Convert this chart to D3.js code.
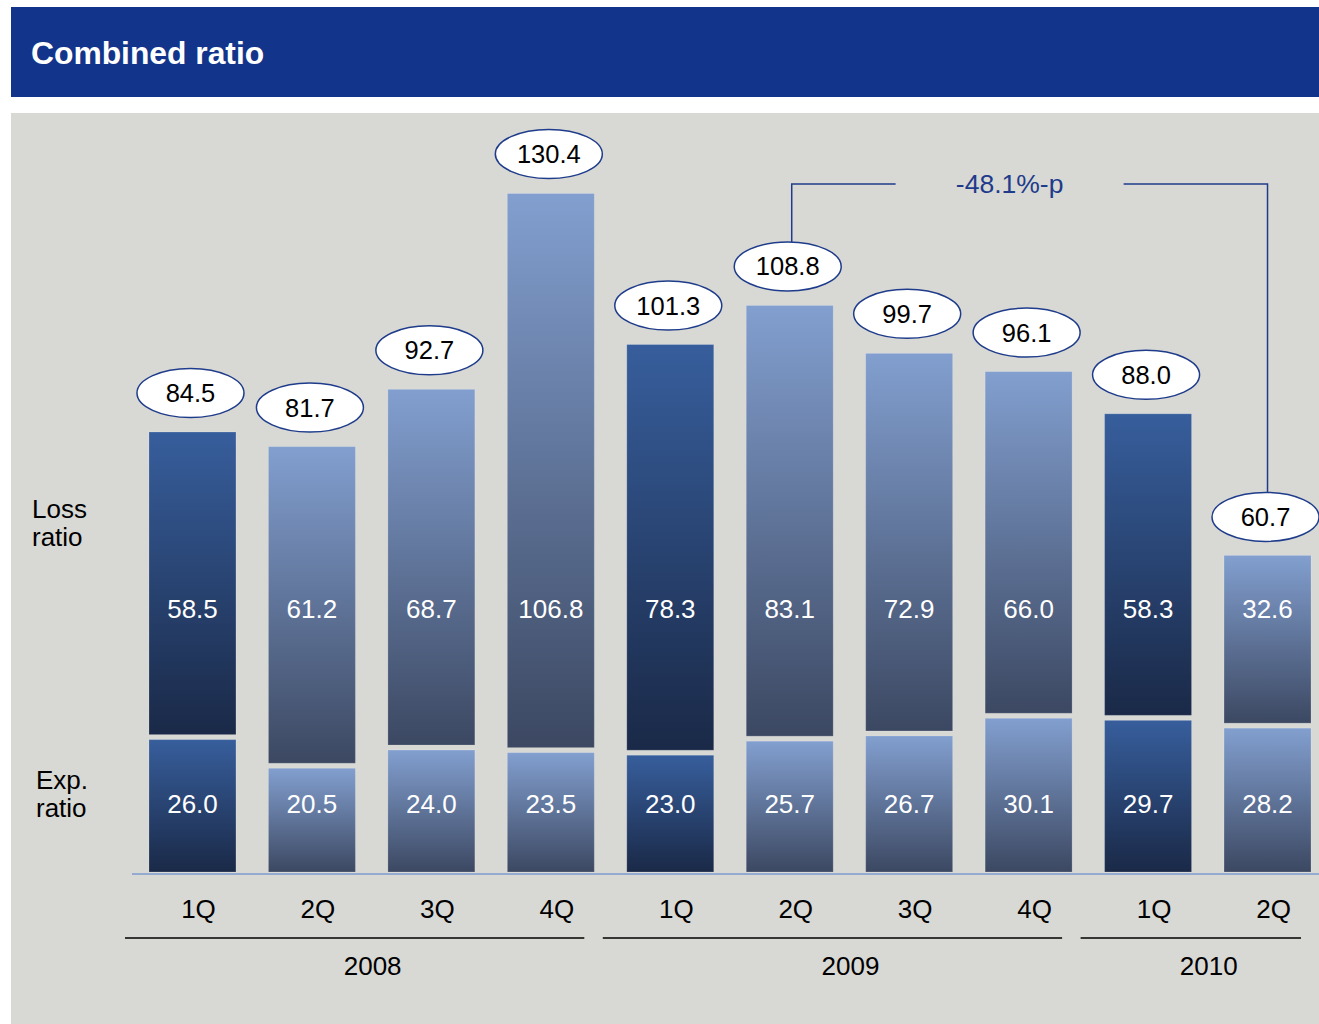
<!DOCTYPE html>
<html>
<head>
<meta charset="utf-8">
<script src="https://cdn.jsdelivr.net/npm/d3@7/dist/d3.min.js"></script>
<style>
  html, body { margin: 0; padding: 0; background: #ffffff; }
  svg { display: block; }
  text { font-family: "Liberation Sans", Arial, Helvetica, sans-serif; }
</style>
</head>
<body>
<svg id="chart" width="1319" height="1024"></svg>
<script>
// Quarterly combined ratio = loss ratio + expense ratio (%)
const quarters   = ["1Q", "2Q", "3Q", "4Q", "1Q", "2Q", "3Q", "4Q", "1Q", "2Q"];
const years      = ["2008", "2008", "2008", "2008", "2009", "2009", "2009", "2009", "2010", "2010"];
const lossRatio  = [58.5, 61.2, 68.7, 106.8, 78.3, 83.1, 72.9, 66.0, 58.3, 32.6];
const expRatio   = [26.0, 20.5, 24.0, 23.5, 23.0, 25.7, 26.7, 30.1, 29.7, 28.2];
const combined   = [84.5, 81.7, 92.7, 130.4, 101.3, 108.8, 99.7, 96.1, 88.0, 60.7];
const compareFrom = 5;   // 2Q 2009
const compareTo   = 9;   // 2Q 2010

const svg = d3.select("#chart");
const W = 1319, H = 1024;

// Gradients
const defs = svg.append("defs");
function grad(id, c0, c1) {
  const g = defs.append("linearGradient").attr("id", id)
    .attr("x1", 0).attr("y1", 0).attr("x2", 0).attr("y2", 1);
  g.append("stop").attr("offset", "0%").attr("stop-color", c0);
  g.append("stop").attr("offset", "100%").attr("stop-color", c1);
}
grad("gDark", "#375e9c", "#1a2947");
grad("gLight", "#829fcf", "#3c4862");

// Header band
svg.append("rect").attr("x", 11).attr("y", 7).attr("width", W - 11).attr("height", 90)
  .attr("fill", "#12348a");
svg.append("text").attr("x", 31).attr("y", 64)
  .attr("fill", "#ffffff").attr("font-weight", "bold").attr("font-size", 31.8)
  .text("Combined ratio");

// Panel
svg.append("rect").attr("x", 11).attr("y", 113).attr("width", W - 11).attr("height", H - 113)
  .attr("fill", "#d8d8d4");

// Scales
const idx = d3.range(quarters.length);
const x = d3.scaleBand().domain(idx).range([149, 1311]).paddingInner(0.272).paddingOuter(0);
const bw = x.bandwidth();
const y = d3.scaleLinear().domain([0, 140]).range([872, 872 - 140 * 5.207]);
const cx = i => x(i) + bw / 2;
const fillFor = i => quarters[i] === "1Q" ? "url(#gDark)" : "url(#gLight)";

const bars = svg.append("g");
// Expense ratio segments (bottom)
bars.selectAll("rect.exp").data(idx).join("rect").attr("class", "exp")
  .attr("x", i => x(i)).attr("width", bw)
  .attr("y", i => y(expRatio[i]) + 3)
  .attr("height", i => y(0) - y(expRatio[i]) - 3)
  .attr("fill", fillFor)
  .attr("stroke", "#ffffff").attr("stroke-opacity", 0.18).attr("stroke-width", 1);
// Loss ratio segments (top)
bars.selectAll("rect.loss").data(idx).join("rect").attr("class", "loss")
  .attr("x", i => x(i)).attr("width", bw)
  .attr("y", i => y(expRatio[i] + lossRatio[i]))
  .attr("height", i => y(expRatio[i]) - y(expRatio[i] + lossRatio[i]) - 2)
  .attr("fill", fillFor)
  .attr("stroke", "#ffffff").attr("stroke-opacity", 0.18).attr("stroke-width", 1);

// Segment values
bars.selectAll("text.lossv").data(idx).join("text")
  .attr("x", cx).attr("y", 618).attr("text-anchor", "middle")
  .attr("fill", "#ffffff").attr("font-size", 26)
  .text(i => lossRatio[i].toFixed(1));
bars.selectAll("text.expv").data(idx).join("text")
  .attr("x", cx).attr("y", 813).attr("text-anchor", "middle")
  .attr("fill", "#ffffff").attr("font-size", 26)
  .text(i => expRatio[i].toFixed(1));

// Baseline
svg.append("line").attr("x1", 132).attr("x2", W).attr("y1", y(0) + 2).attr("y2", y(0) + 2)
  .attr("stroke", "#7f9bcf").attr("stroke-width", 1.5);

// Totals in ellipses
const ellY = i => y(combined[i]) - 39;
const tot = svg.append("g");
tot.selectAll("ellipse").data(idx).join("ellipse")
  .attr("cx", i => cx(i) - 2).attr("cy", ellY).attr("rx", 53.5).attr("ry", 24.5)
  .attr("fill", "#ffffff").attr("stroke", "#1e3c8b").attr("stroke-width", 1.5);
tot.selectAll("text").data(idx).join("text")
  .attr("x", i => cx(i) - 2).attr("y", i => ellY(i) + 9).attr("text-anchor", "middle")
  .attr("fill", "#000000").attr("font-size", 25.5)
  .text(i => combined[i].toFixed(1));

// Change bracket between the two 2Q totals
const bx0 = cx(compareFrom) + 2, bx1 = cx(compareTo);
const byTop = ellY(compareFrom) - 24.5 - 58;
const labelX = (bx0 + bx1) / 2 - 20;
const gapHalf = 114;
const bracket = svg.append("g").attr("fill", "none").attr("stroke", "#1e3c8b").attr("stroke-width", 1.5);
bracket.append("path").attr("d",
  `M${bx0},${ellY(compareFrom) - 24.5} V${byTop} H${labelX - gapHalf}`);
bracket.append("path").attr("d",
  `M${labelX + gapHalf},${byTop} H${bx1} V${ellY(compareTo) - 24.5}`);
svg.append("text").attr("x", labelX).attr("y", byTop + 9).attr("text-anchor", "middle")
  .attr("fill", "#1e3c8b").attr("font-size", 26.5)
  .text((combined[compareTo] - combined[compareFrom]).toFixed(1) + "%-p");

// Row labels
const rowLab = svg.append("g").attr("fill", "#000000").attr("font-size", 26);
rowLab.append("text").attr("x", 32).attr("y", 518).text("Loss");
rowLab.append("text").attr("x", 32).attr("y", 546).text("ratio");
rowLab.append("text").attr("x", 36).attr("y", 789).text("Exp.");
rowLab.append("text").attr("x", 36).attr("y", 817).text("ratio");

// Quarter labels
svg.append("g").selectAll("text").data(idx).join("text")
  .attr("x", i => cx(i) + 6).attr("y", 918).attr("text-anchor", "middle")
  .attr("fill", "#000000").attr("font-size", 26)
  .text(i => quarters[i]);

// Year groups
const yearGroups = d3.groups(idx, i => years[i]);
const yg = svg.append("g");
yearGroups.forEach(([yr, members]) => {
  const first = members[0], last = members[members.length - 1];
  const left = x(first), right = x(last) + bw;
  yg.append("line").attr("x1", left - 24).attr("x2", right - 10)
    .attr("y1", 938).attr("y2", 938).attr("stroke", "#000000").attr("stroke-width", 1.5);
  yg.append("text").attr("x", (left + right) / 2 + 1).attr("y", 975)
    .attr("text-anchor", "middle").attr("fill", "#000000").attr("font-size", 26)
    .text(yr);
});
</script>
</body>
</html>
